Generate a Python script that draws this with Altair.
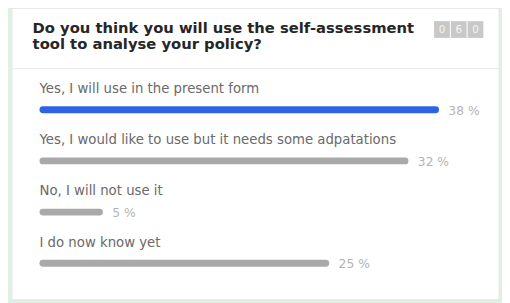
import altair as alt
import pandas as pd

# ---- data ----
title_lines = ["Do you think you will use the self-assessment", "tool to analyse your policy?"]
counter_digits = ["0", "6", "0"]
categories = [
    "Yes, I will use in the present form",
    "Yes, I would like to use but it needs some adpatations",
    "No, I will not use it",
    "I do now know yet",
]
percents = [38, 32, 5, 25]
bar_colors = ["#2f63e6", "#a9a9a9", "#a9a9a9", "#a9a9a9"]

df = pd.DataFrame({
    "category": categories,
    "value": percents,
    "start": [0] * len(percents),
    "row": list(range(len(percents))),
    "label": [f"{p} %" for p in percents],
    "color": bar_colors,
})

W, H = 502, 295
FONT = "DejaVu Sans"

xscale = alt.Scale(domain=[0, 34.7], range=[35.5, 434.5], clamp=True)
yscale = alt.Scale(domain=[0, 3], range=[101, 257])

base = alt.Chart(df)

# panel
panel = alt.Chart(pd.DataFrame({"a": [0]})).mark_rect(
    fill="#ffffff", stroke="#e6e6e6", strokeWidth=1
).encode(x=alt.value(4), x2=alt.value(499), y=alt.value(-2), y2=alt.value(294))

sep = alt.Chart(pd.DataFrame({"a": [0]})).mark_rule(
    color="#e8e8e8", strokeWidth=1
).encode(x=alt.value(4), x2=alt.value(499), y=alt.value(59))

title = alt.Chart(pd.DataFrame({"t": [title_lines]})).mark_text(
    align="left", baseline="alphabetic", font=FONT, fontSize=15, fontWeight="bold",
    color="#262626", lineHeight=16
).encode(x=alt.value(25), y=alt.value(23), text="t")

counter_layers = []
for i, d in enumerate(counter_digits):
    x0 = 433 + i * 17
    box = alt.Chart(pd.DataFrame({"d": [d]})).mark_rect(fill="#c8c8c8").encode(
        x=alt.value(x0), x2=alt.value(x0 + 16), y=alt.value(11), y2=alt.value(28)
    )
    txt = alt.Chart(pd.DataFrame({"d": [d]})).mark_text(
        font=FONT, fontSize=10.5, color="#f4f4f4", align="center", baseline="middle"
    ).encode(x=alt.value(x0 + 8), y=alt.value(20), text="d:N")
    counter_layers += [box, txt]

bars = base.mark_rule(strokeWidth=7, strokeCap="round").encode(
    x=alt.X("start:Q", scale=xscale, axis=None),
    x2="value:Q",
    y=alt.Y("row:Q", scale=yscale, axis=None),
    color=alt.Color("color:N", scale=None, legend=None),
)

cat_text = base.mark_text(
    align="left", baseline="alphabetic", font=FONT, fontSize=13.5, color="#6a6a6a", dy=-17
).encode(x=alt.value(32), y=alt.Y("row:Q", scale=yscale, axis=None), text="category:N")

pct_text = base.mark_text(
    align="left", baseline="middle", font=FONT, fontSize=12.5, color="#b4b4b4", dx=13, dy=1
).encode(
    x=alt.X("value:Q", scale=xscale, axis=None),
    y=alt.Y("row:Q", scale=yscale, axis=None),
    text="label:N",
)

chart = alt.layer(panel, sep, title, *counter_layers, bars, cat_text, pct_text).properties(
    width=W, height=H, autosize="none", padding=0, background="#e2f0e3"
).configure_view(stroke=None)

chart.save("out.html", embed_options={"renderer": "svg", "actions": False})
